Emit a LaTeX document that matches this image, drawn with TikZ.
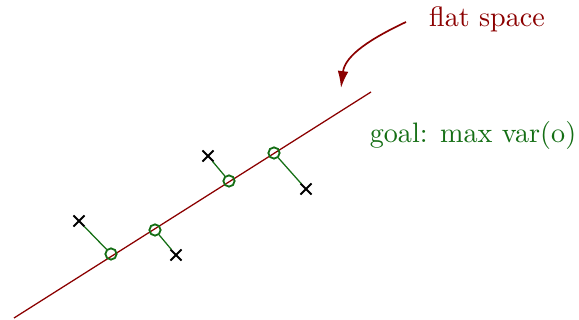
\documentclass[tikz,border=0pt]{standalone}
\usetikzlibrary{shapes.misc,arrows.meta}
\definecolor{flatred}{RGB}{139,0,0}
\definecolor{goalgreen}{RGB}{20,110,20}
\begin{document}
\begin{tikzpicture}[
  x=0.0125cm, y=-0.0125cm,
  proj/.style={circle, draw=goalgreen, line width=0.65pt, inner sep=0pt, minimum size=4pt},
  sample/.style={cross out, draw=black, line width=0.65pt, inner sep=0pt, minimum size=3.3pt},
  note/.style={font=\normalsize, align=center}
]
\useasboundingbox (0,0) rectangle (579,320);
% the flat space
\coordinate (lo) at (14,318);
\coordinate (hi) at (371,92);
\draw[flatred, line width=0.45pt] (lo) -- (hi);
% projections onto the line
\node[proj] (o1) at (111,254) {};
\node[proj] (o2) at (155,230) {};
\node[proj] (o3) at (229,181) {};
\node[proj] (o4) at (274,153) {};
\node[sample] (x1) at (79,221) {};
\node[sample] (x2) at (176,255) {};
\node[sample] (x3) at (208,156) {};
\node[sample] (x4) at (306,189) {};
\foreach \i in {1,...,4}
  \draw[goalgreen, line width=0.45pt] (x\i) -- (o\i);
% labels
\node[note, text=flatred] (flat) at (487,19) {flat space};
\node[note, text=goalgreen] (goal) at (473,135) {goal: max var(o)};
\coordinate (tip) at (341,88);
\draw[flatred, line width=0.6pt, -{Latex[length=6pt,width=3.8pt]}] (406,22) .. controls (372,38) and (345,55) .. (tip);
\end{tikzpicture}
\end{document}
